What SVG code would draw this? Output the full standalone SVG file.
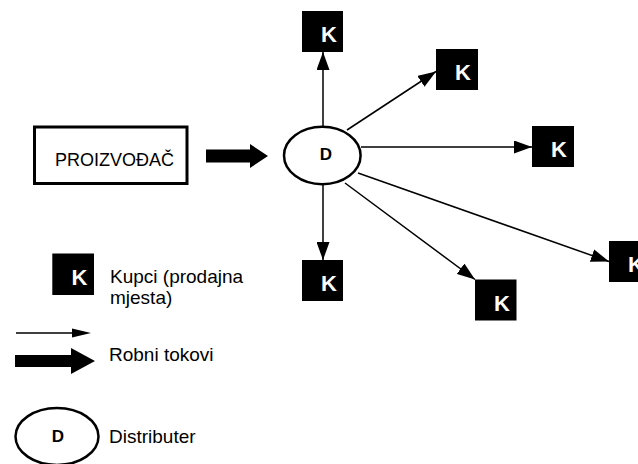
<svg xmlns="http://www.w3.org/2000/svg" width="638" height="464" viewBox="0 0 638 464">
<style>
.k{fill:#000}
.kt{fill:#fff;font-family:"Liberation Sans",Arial,sans-serif;font-weight:bold;font-size:22px}
.t{fill:#000;font-family:"Liberation Sans",Arial,sans-serif;font-size:19px}
.dt{fill:#000;font-family:"Liberation Sans",Arial,sans-serif;font-weight:bold;font-size:17px;text-anchor:middle}
.ln{stroke:#000;stroke-width:1.5;fill:none;marker-end:url(#ah)}
.el{fill:#fff;stroke:#000;stroke-width:2.5}
</style>
<defs>
<marker id="ah" markerUnits="userSpaceOnUse" markerWidth="19" markerHeight="13" refX="18" refY="6.5" orient="auto">
<path d="M0,0 L18,6.5 L0,13 z" fill="#000"/>
</marker>
</defs>
<rect width="638" height="464" fill="#fff"/>
<g id="connectors">
<line class="ln" x1="323" y1="126" x2="323" y2="52"/>
<line class="ln" x1="347" y1="130" x2="436" y2="71.5"/>
<line class="ln" x1="361" y1="147" x2="532" y2="147"/>
<line class="ln" x1="358" y1="173" x2="609" y2="261.5"/>
<line class="ln" x1="345" y1="183" x2="475" y2="279.5"/>
<line class="ln" x1="323" y1="185" x2="323" y2="260"/>
<polygon points="206,149.5 250,149.5 250,144 268,156 250,168 250,162.5 206,162.5" fill="#000"/>
</g>
<g id="proizvodac">
<rect x="34.5" y="127" width="152.5" height="56.5" fill="#fff" stroke="#000" stroke-width="3"/>
<text class="t" x="55" y="166" font-size="20" textLength="119" lengthAdjust="spacingAndGlyphs">PROIZVOĐAČ</text>
</g>
<g id="distributer">
<ellipse class="el" cx="322.3" cy="155.5" rx="38.3" ry="28.7"/>
<text class="dt" x="326" y="160">D</text>
</g>
<g id="k1"><rect class="k" x="302" y="11" width="41" height="41"/><text class="kt" x="321" y="42">K</text></g>
<g id="k2"><rect class="k" x="436" y="49" width="42" height="41"/><text class="kt" x="455" y="80">K</text></g>
<g id="k3"><rect class="k" x="532" y="126" width="42" height="41"/><text class="kt" x="551" y="157">K</text></g>
<g id="k4"><rect class="k" x="609" y="241" width="42" height="41"/><text class="kt" x="628" y="272">K</text></g>
<g id="k5"><rect class="k" x="475" y="279.5" width="41.5" height="41"/><text class="kt" x="494" y="310.5">K</text></g>
<g id="k6"><rect class="k" x="302" y="260" width="41" height="41"/><text class="kt" x="321" y="291">K</text></g>
<g id="legend">
<rect class="k" x="52.3" y="253.5" width="41.7" height="41.5"/>
<text class="kt" x="71.5" y="285">K</text>
<text class="t" x="110" y="283">Kupci (prodajna</text>
<text class="t" x="110" y="303.5">mjesta)</text>
<line x1="16" y1="333" x2="74" y2="333" stroke="#000" stroke-width="1.5"/>
<polygon points="72,328.5 91,333 72,337.5" fill="#000"/>
<polygon points="15,355 71,355 71,348 95,361 71,374 71,367 15,367" fill="#000"/>
<text class="t" x="109" y="361">Robni tokovi</text>
<ellipse class="el" cx="57" cy="436.5" rx="41.5" ry="28.5"/>
<text class="dt" x="58" y="442">D</text>
<text class="t" x="109" y="443">Distributer</text>
</g>
</svg>
